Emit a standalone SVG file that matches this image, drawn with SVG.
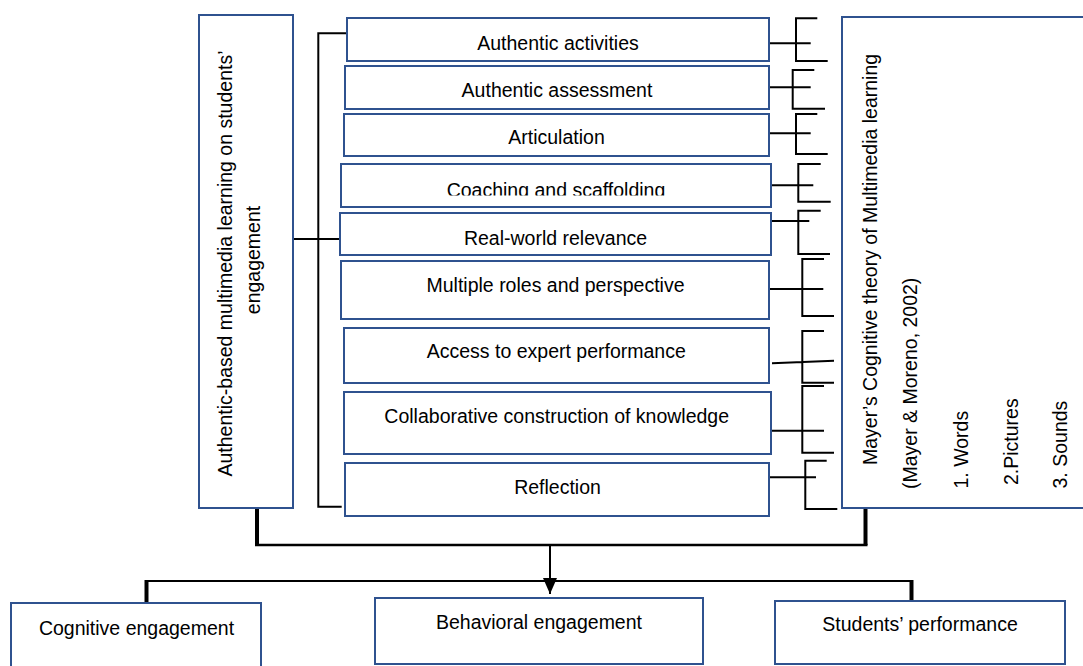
<svg xmlns="http://www.w3.org/2000/svg" width="1083" height="666" viewBox="0 0 1083 666">
<style>
.box{fill:#fff;stroke:#2F528F;stroke-width:2}
.t{font-family:"Liberation Sans",Arial,sans-serif;font-size:19.5px;fill:#000}
.c{text-anchor:middle}
.ln{fill:none;stroke:#000;stroke-width:2}
.thick{fill:none;stroke:#000;stroke-width:4}
</style>
<defs>
<marker id="arr" markerWidth="8" markerHeight="7" refX="8" refY="3.5" orient="auto" markerUnits="strokeWidth">
<path d="M0,0 L8,3.5 L0,7 Z" fill="#000"/>
</marker>
<clipPath id="clip4"><rect x="341" y="164" width="430" height="31.5"/></clipPath>
</defs>
<rect width="1083" height="666" fill="#fff"/>

<g id="connectors">
<!-- left bracket -->
<path class="ln" d="M351.7,33.3 H318.3 V506.7 H341.7"/>
<path class="ln" d="M289,239 H340"/>
<!-- right brackets -->
<path class="ln" d="M769,43.3 H810.7 M817.3,18.3 H796 V61 H827.7"/>
<path class="ln" d="M769,87.3 H810.7 M814.3,70 H792.7 V108.7 H825"/>
<path class="ln" d="M769,133.3 H810.7 M817.3,114 H796 V154 H827.7"/>
<path class="ln" d="M771,185.3 H813.3 M820.7,164 H798.3 V201.7 H830.7"/>
<path class="ln" d="M768,221 H809.3 M820.7,210.7 H798.3 V254 H830"/>
<path class="ln" d="M769,289 H823.3 M824,259 H802.3 V316 H834"/>
<path class="ln" d="M772,363.3 L834,360.7 M824,331 H802.3 V382.7 H834"/>
<path class="ln" d="M772,430.7 H824 M824,386 H802.3 V452.7 H834"/>
<path class="ln" d="M766.7,477.3 H816 M826.7,460.7 H805.3 V509 H837.3"/>
<!-- bottom connectors -->
<path class="thick" d="M257,508 V545"/>
<path class="thick" d="M865.5,508 V545"/>
<path class="ln" d="M255,545 H867.5" style="stroke-width:2.5"/>
<path class="ln" d="M550,545 V594" marker-end="url(#arr)"/>
<path class="ln" d="M146.5,581 H911.5"/>
<path class="thick" d="M146.5,580 V603"/>
<path class="thick" d="M911.5,580 V601"/>
</g>

<g id="node-left">
<rect class="box" x="199" y="15" width="94" height="493"/>
<text class="t c" transform="translate(232,263.5) rotate(-90)">Authentic-based multimedia learning on students’</text>
<text class="t c" transform="translate(259.5,260) rotate(-90)">engagement</text>
</g>

<g id="node-right">
<rect class="box" x="842" y="17" width="260" height="491"/>
<text class="t" transform="translate(876.5,465) rotate(-90)">Mayer’s Cognitive theory of Multimedia learning</text>
<text class="t" transform="translate(917,489) rotate(-90)">(Mayer &amp; Moreno, 2002)</text>
<text class="t" transform="translate(968,488.5) rotate(-90)">1. Words</text>
<text class="t" transform="translate(1018,485) rotate(-90)">2.Pictures</text>
<text class="t" transform="translate(1066.5,488.5) rotate(-90)">3. Sounds</text>
</g>

<g id="node-1"><rect class="box" x="347" y="18" width="422" height="43"/><text class="t c" x="558" y="50">Authentic activities</text></g>
<g id="node-2"><rect class="box" x="345" y="66" width="424" height="43"/><text class="t c" x="557" y="96.7">Authentic assessment</text></g>
<g id="node-3"><rect class="box" x="344" y="114" width="425" height="42"/><text class="t c" x="556.5" y="144.3">Articulation</text></g>
<g id="node-4"><rect class="box" x="341" y="164" width="430" height="43"/><text class="t c" x="556" y="196.5" clip-path="url(#clip4)">Coaching and scaffolding</text></g>
<g id="node-5"><rect class="box" x="340" y="213" width="431" height="42"/><text class="t c" x="555.5" y="245">Real-world relevance</text></g>
<g id="node-6"><rect class="box" x="341" y="261" width="428" height="58"/><text class="t c" x="555.5" y="291.7">Multiple roles and perspective</text></g>
<g id="node-7"><rect class="box" x="344" y="328" width="425" height="55"/><text class="t c" x="556.3" y="358.3">Access to expert performance</text></g>
<g id="node-8"><rect class="box" x="344" y="392" width="427" height="62"/><text class="t c" x="556.7" y="422.7">Collaborative construction of knowledge</text></g>
<g id="node-9"><rect class="box" x="345" y="463" width="424" height="53"/><text class="t c" x="557.5" y="494.3">Reflection</text></g>

<g id="node-cognitive"><rect class="box" x="11" y="603" width="250" height="70"/><text class="t c" x="136.5" y="635">Cognitive engagement</text></g>
<g id="node-behavioral"><rect class="box" x="375" y="598" width="328" height="66"/><text class="t c" x="539" y="629.3">Behavioral engagement</text></g>
<g id="node-performance"><rect class="box" x="775" y="601" width="290" height="63"/><text class="t c" x="920" y="630.7">Students’ performance</text></g>
</svg>
